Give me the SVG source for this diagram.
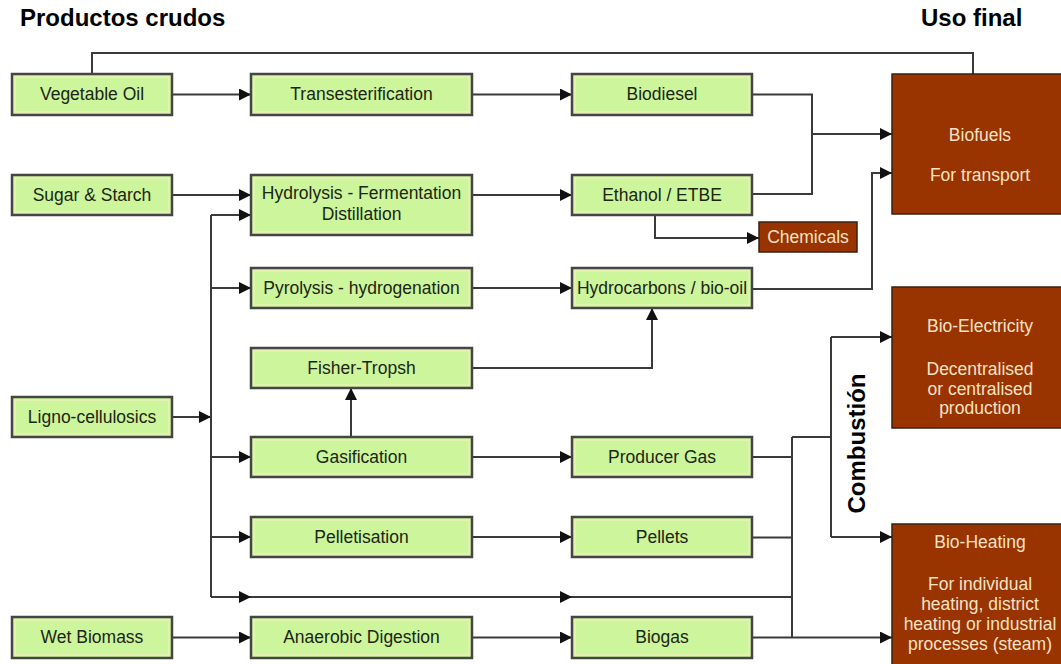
<svg xmlns="http://www.w3.org/2000/svg" width="1061" height="664" viewBox="0 0 1061 664">
<defs>
<marker id="ah" markerUnits="userSpaceOnUse" markerWidth="13" markerHeight="13" refX="12" refY="6" orient="auto">
<path d="M0,0 L12,6 L0,12 z" fill="#111"/>
</marker>
<style>
.g rect.o{fill:#ccf59c;stroke:#454545;stroke-width:2.5}
.g rect.i{fill:none;stroke:#f2efbf;stroke-width:1.2}
.g text{font-family:"Liberation Sans",Arial,sans-serif;font-size:17.5px;fill:#1c2614;text-anchor:middle}
.b rect{fill:#993300;stroke:#3a2010;stroke-width:1.5}
.b text{font-family:"Liberation Sans",Arial,sans-serif;font-size:17.5px;fill:#f8e2c6;text-anchor:middle}
.t{font-family:"Liberation Sans",Arial,sans-serif;font-size:24px;font-weight:bold;fill:#000}
.c path,.c line{fill:none;stroke:#3a3a3a;stroke-width:2}
.a{marker-end:url(#ah)}
</style>
</defs>
<rect width="1061" height="664" fill="#fff"/>
<text class="t" x="20" y="26">Productos crudos</text>
<text class="t" x="921" y="26">Uso final</text>
<text class="t" transform="translate(865,443.5) rotate(-90)" text-anchor="middle">Combustión</text>

<g class="c" id="connectors">
<path d="M92,74 V53 H973 V74"/>
<path class="a" d="M172,94.5 H251"/>
<path class="a" d="M472,94.5 H572"/>
<path d="M752,94.5 H812 V194 H752"/>
<path class="a" d="M812,134 H892"/>
<path class="a" d="M752,289 H872 V173 H892"/>
<path class="a" d="M655,215 V238 H759"/>
<path class="a" d="M172,195 H251"/>
<path class="a" d="M472,195 H572"/>
<path class="a" d="M172,417 H211"/>
<path d="M211,215 V597"/>
<path class="a" d="M211,215 H251"/>
<path class="a" d="M211,288 H251"/>
<path class="a" d="M211,457 H251"/>
<path class="a" d="M211,537 H251"/>
<path class="a" d="M211,597 H251"/>
<path class="a" d="M251,597 H572"/>
<path d="M572,597 H792"/>
<path class="a" d="M472,288 H572"/>
<path class="a" d="M351,437 V388"/>
<path class="a" d="M472,368 H652 V308"/>
<path class="a" d="M472,457 H572"/>
<path class="a" d="M472,537 H572"/>
<path class="a" d="M172,637.5 H251"/>
<path class="a" d="M472,637.5 H572"/>
<path d="M752,457 H792"/>
<path d="M752,537.5 H792"/>
<path class="a" d="M752,637.5 H892"/>
<path d="M792,437 V637.5"/>
<path d="M792,437 H831"/>
<path d="M831,337 V537"/>
<path class="a" d="M831,337 H892"/>
<path class="a" d="M831,537 H892"/>
</g>

<g class="g" id="vegetable-oil"><rect class="o" x="12" y="74" width="160" height="41"/><rect class="i" x="15" y="77" width="154" height="35"/><text x="92" y="100">Vegetable Oil</text></g>
<g class="g" id="sugar-starch"><rect class="o" x="12" y="175" width="160" height="40"/><rect class="i" x="15" y="178" width="154" height="34"/><text x="92" y="201">Sugar &amp; Starch</text></g>
<g class="g" id="ligno"><rect class="o" x="12" y="397" width="160" height="40"/><rect class="i" x="15" y="400" width="154" height="34"/><text x="92" y="423">Ligno-cellulosics</text></g>
<g class="g" id="wet-biomass"><rect class="o" x="12" y="617" width="160" height="41"/><rect class="i" x="15" y="620" width="154" height="35"/><text x="92" y="643">Wet Biomass</text></g>

<g class="g" id="transesterification"><rect class="o" x="251" y="74" width="221" height="41"/><rect class="i" x="254" y="77" width="215" height="35"/><text x="361.5" y="100">Transesterification</text></g>
<g class="g" id="hydrolysis"><rect class="o" x="251" y="175" width="221" height="60"/><rect class="i" x="254" y="178" width="215" height="54"/><text x="361.5" y="199">Hydrolysis - Fermentation</text><text x="361.5" y="220">Distillation</text></g>
<g class="g" id="pyrolysis"><rect class="o" x="251" y="268" width="221" height="40"/><rect class="i" x="254" y="271" width="215" height="34"/><text x="361.5" y="294">Pyrolysis - hydrogenation</text></g>
<g class="g" id="fisher-tropsh"><rect class="o" x="251" y="348" width="221" height="40"/><rect class="i" x="254" y="351" width="215" height="34"/><text x="361.5" y="374">Fisher-Tropsh</text></g>
<g class="g" id="gasification"><rect class="o" x="251" y="437" width="221" height="40"/><rect class="i" x="254" y="440" width="215" height="34"/><text x="361.5" y="463">Gasification</text></g>
<g class="g" id="pelletisation"><rect class="o" x="251" y="517" width="221" height="40"/><rect class="i" x="254" y="520" width="215" height="34"/><text x="361.5" y="543">Pelletisation</text></g>
<g class="g" id="anaerobic"><rect class="o" x="251" y="617" width="221" height="41"/><rect class="i" x="254" y="620" width="215" height="35"/><text x="361.5" y="643">Anaerobic Digestion</text></g>

<g class="g" id="biodiesel"><rect class="o" x="572" y="74" width="180" height="41"/><rect class="i" x="575" y="77" width="174" height="35"/><text x="662" y="100">Biodiesel</text></g>
<g class="g" id="ethanol"><rect class="o" x="572" y="175" width="180" height="40"/><rect class="i" x="575" y="178" width="174" height="34"/><text x="662" y="201">Ethanol / ETBE</text></g>
<g class="g" id="hydrocarbons"><rect class="o" x="572" y="268" width="180" height="40"/><rect class="i" x="575" y="271" width="174" height="34"/><text x="662" y="294">Hydrocarbons / bio-oil</text></g>
<g class="g" id="producer-gas"><rect class="o" x="572" y="437" width="180" height="40"/><rect class="i" x="575" y="440" width="174" height="34"/><text x="662" y="463">Producer Gas</text></g>
<g class="g" id="pellets"><rect class="o" x="572" y="517" width="180" height="40"/><rect class="i" x="575" y="520" width="174" height="34"/><text x="662" y="543">Pellets</text></g>
<g class="g" id="biogas"><rect class="o" x="572" y="617" width="180" height="41"/><rect class="i" x="575" y="620" width="174" height="35"/><text x="662" y="643">Biogas</text></g>

<g class="b" id="chemicals"><rect x="759" y="222" width="98" height="30"/><text x="808" y="243">Chemicals</text></g>
<g class="b" id="biofuels"><rect x="892" y="74" width="180" height="140"/><text x="980" y="141">Biofuels</text><text x="980" y="181">For transport</text></g>
<g class="b" id="bio-electricity"><rect x="892" y="287" width="180" height="141"/><text x="980" y="332">Bio-Electricity</text><text x="980" y="375">Decentralised</text><text x="980" y="395">or centralised</text><text x="980" y="414">production</text></g>
<g class="b" id="bio-heating"><rect x="892" y="524" width="180" height="150"/><text x="980" y="548">Bio-Heating</text><text x="980" y="590">For individual</text><text x="980" y="610">heating, district</text><text x="980" y="630">heating or industrial</text><text x="980" y="650">processes (steam)</text></g>
</svg>
